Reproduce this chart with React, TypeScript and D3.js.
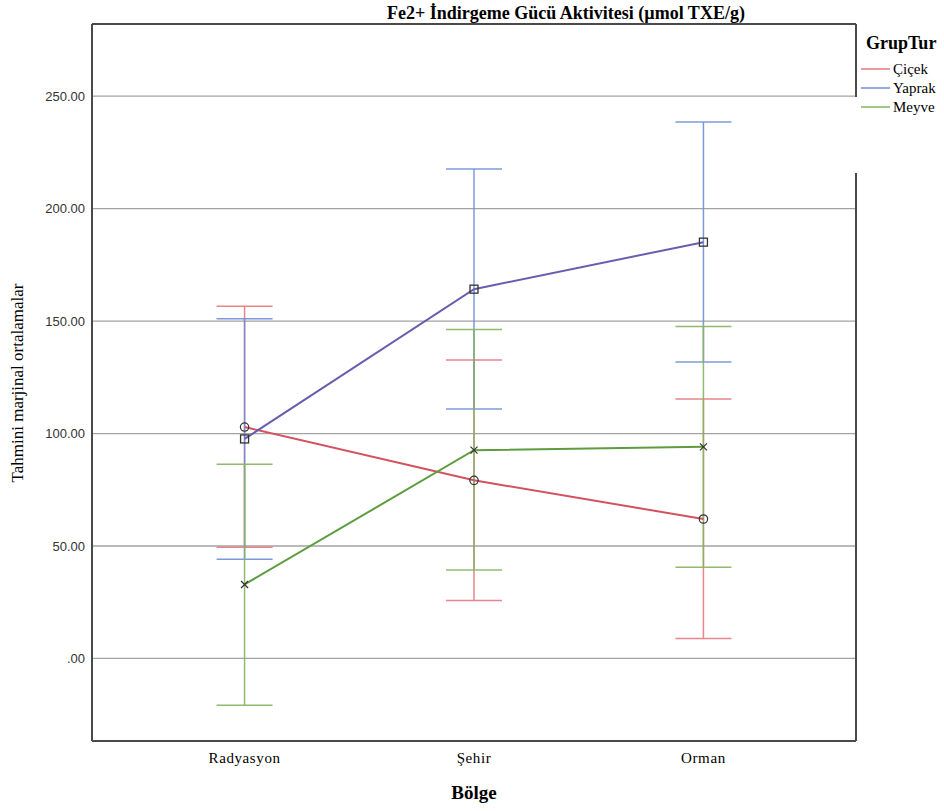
import * as React from "react";
import * as d3 from "d3";

// regions on the x axis
const regions = ["Radyasyon", "Şehir", "Orman"];

// estimated marginal means per group
const cicekMean = [102.9, 79.2, 62.0];
const yaprakMean = [97.6, 164.2, 185.1];
const meyveMean = [32.9, 92.6, 94.1];

// error bar bounds (lower / upper)
const cicekLow = [49.4, 25.8, 8.9];
const cicekHigh = [156.6, 132.7, 115.4];
const yaprakLow = [44.1, 110.9, 131.8];
const yaprakHigh = [151.0, 217.6, 238.5];
const meyveLow = [-20.8, 39.3, 40.6];
const meyveHigh = [86.4, 146.3, 147.6];

const yTicks = [0, 50, 100, 150, 200, 250];

const groups = [
  { name: "Çiçek", mean: cicekMean, low: cicekLow, high: cicekHigh, bar: "#e5797f", line: "#d2525f", marker: "circle" },
  { name: "Yaprak", mean: yaprakMean, low: yaprakLow, high: yaprakHigh, bar: "#6f8fd6", line: "#6a5db0", marker: "square" },
  { name: "Meyve", mean: meyveMean, low: meyveLow, high: meyveHigh, bar: "#84b45f", line: "#5e9c3f", marker: "cross" },
];

const serif = { fontFamily: "'Liberation Serif', 'DejaVu Serif', serif" };
const sans = { fontFamily: "'Liberation Sans', 'DejaVu Sans', sans-serif" };

export default function App() {
  const width = 944;
  const height = 811;
  const left = 92, right = 856, top = 24, bottom = 741;

  const x = d3.scalePoint().domain(regions).range([left, right]).padding(0.665);
  const y = d3.scaleLinear().domain([-36.7, 282.1]).range([bottom, top]);

  const line = d3.line<number>()
    .x((_, i) => x(regions[i]) as number)
    .y((d) => y(d));

  const cap = 28;

  const marker = (kind: string, cx: number, cy: number, key: string) => {
    if (kind === "circle") return <circle key={key} cx={cx} cy={cy} r={4.2} fill="none" stroke="#333" strokeWidth={1.2} />;
    if (kind === "square") return <rect key={key} x={cx - 4} y={cy - 4} width={8} height={8} fill="none" stroke="#333" strokeWidth={1.3} />;
    return (
      <g key={key} stroke="#333" strokeWidth={1.2}>
        <line x1={cx - 3.5} y1={cy - 3.5} x2={cx + 3.5} y2={cy + 3.5} />
        <line x1={cx - 3.5} y1={cy + 3.5} x2={cx + 3.5} y2={cy - 3.5} />
      </g>
    );
  };

  return (
    <svg width={width} height={height} style={{ position: "absolute", left: 0, top: 0 }}>
      <rect width={width} height={height} fill="#fff" />
      <text x={566} y={19} textAnchor="middle" style={serif} fontWeight="bold" fontSize={18}>
        Fe2+ İndirgeme Gücü Aktivitesi (µmol TXE/g)
      </text>

      {yTicks.map((t) => (
        <g key={t}>
          <line x1={left} x2={right} y1={y(t)} y2={y(t)} stroke="#a3a3a3" strokeWidth={1.3} />
          <text x={85} y={y(t) + 4.5} textAnchor="end" style={sans} fontSize={13} fill="#333">
            {t === 0 ? ".00" : t.toFixed(2)}
          </text>
        </g>
      ))}

      {groups.map((g) =>
        regions.map((r, i) => {
          const cx = x(r) as number;
          return (
            <g key={g.name + r} stroke={g.bar} strokeWidth={1.5} opacity={0.9}>
              <line x1={cx} x2={cx} y1={y(g.low[i])} y2={y(g.high[i])} />
              <line x1={cx - cap} x2={cx + cap} y1={y(g.high[i])} y2={y(g.high[i])} />
              <line x1={cx - cap} x2={cx + cap} y1={y(g.low[i])} y2={y(g.low[i])} />
            </g>
          );
        })
      )}

      {groups.map((g) => (
        <path key={g.name} d={line(g.mean) || ""} fill="none" stroke={g.line} strokeWidth={2} />
      ))}

      {groups.map((g) => g.mean.map((v, i) => marker(g.marker, x(regions[i]) as number, y(v), g.name + i)))}

      <g stroke="#4a4a4a" strokeWidth={2} fill="none">
        <line x1={left} x2={right} y1={top} y2={top} />
        <line x1={left} x2={left} y1={top} y2={bottom} />
        <line x1={left} x2={right} y1={bottom} y2={bottom} />
        <line x1={right} x2={right} y1={top} y2={97} />
        <line x1={right} x2={right} y1={173} y2={bottom} />
      </g>

      {regions.map((r) => (
        <text key={r} x={x(r) as number} y={763} textAnchor="middle" style={serif} fontSize={15} letterSpacing={0.6}>
          {r}
        </text>
      ))}
      <text x={474} y={799} textAnchor="middle" style={serif} fontWeight="bold" fontSize={19}>
        Bölge
      </text>
      <text transform="translate(23,383) rotate(-90)" textAnchor="middle" style={serif} fontSize={17}>
        Tahmini marjinal ortalamalar
      </text>

      <text x={866} y={49} style={serif} fontWeight="bold" fontSize={18}>GrupTur</text>
      {groups.map((g, i) => (
        <g key={g.name}>
          <line x1={861} x2={890} y1={69 + i * 19} y2={69 + i * 19} stroke={g.bar} strokeWidth={1.5} />
          <text x={893} y={74 + i * 19} style={serif} fontSize={15}>{g.name}</text>
        </g>
      ))}
    </svg>
  );
}
